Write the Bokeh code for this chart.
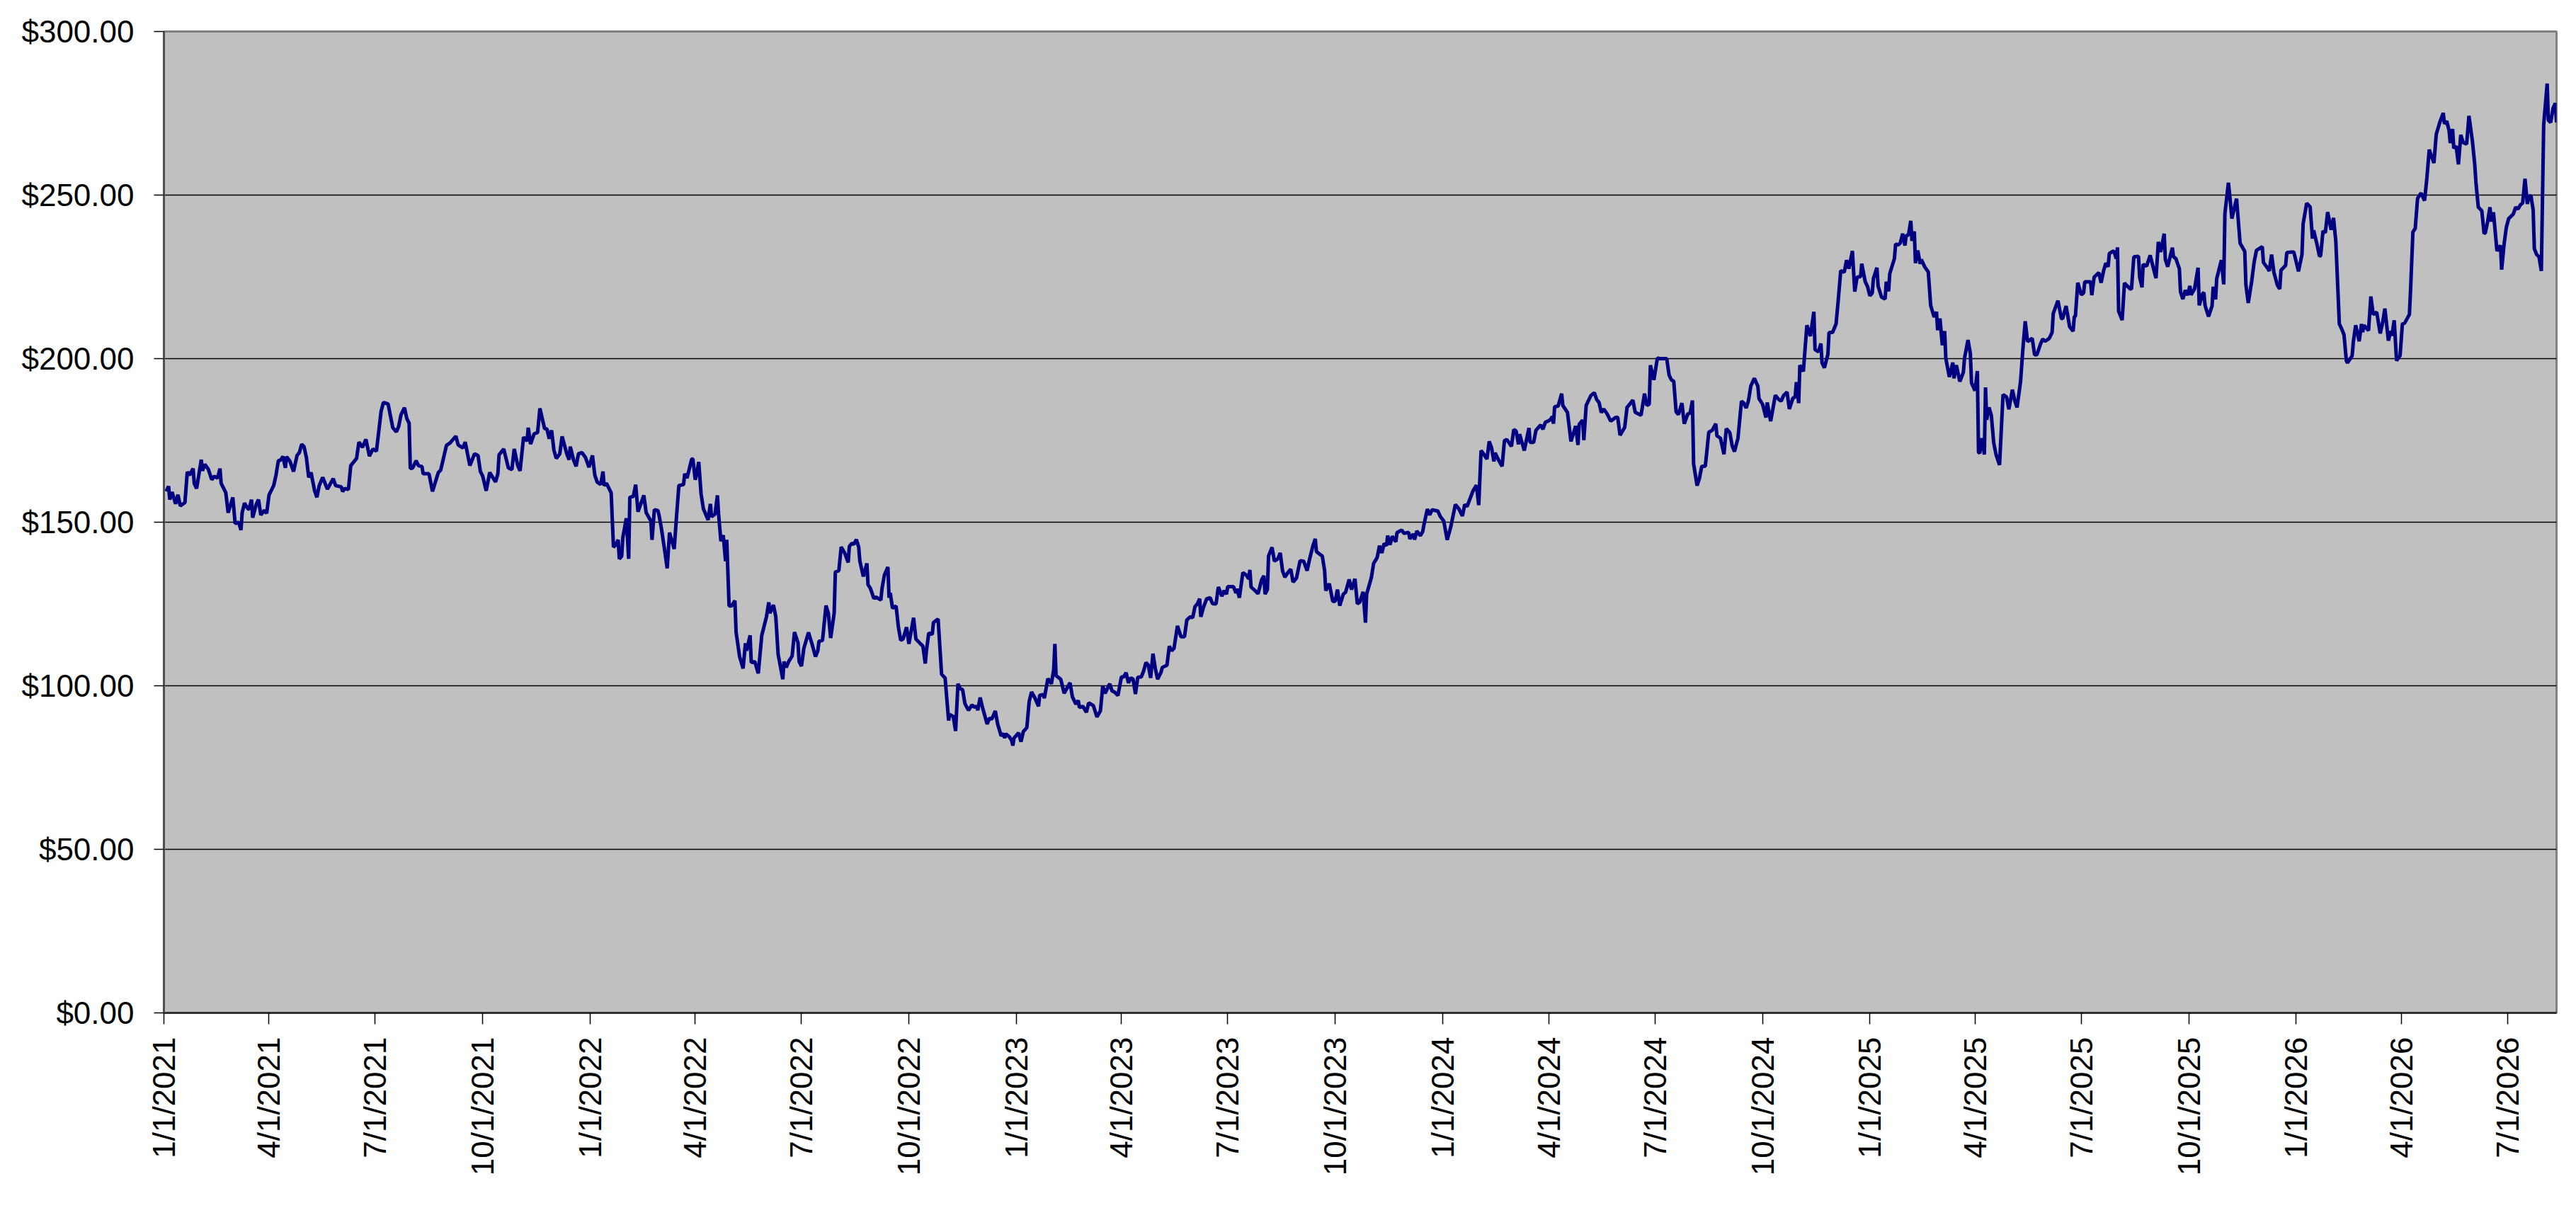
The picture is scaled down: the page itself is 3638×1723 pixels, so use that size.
from datetime import datetime, timedelta
from bokeh.plotting import figure
from bokeh.models import (FixedTicker, NumeralTickFormatter, DatetimeTickFormatter,
                          Range1d, ColumnDataSource)
from bokeh.embed import file_html
from bokeh.resources import INLINE
import math

# ---------------- data (day offset from 1/1/2021, price in $) ----------------
start_label = "1/1/2021"
end_offset = 2049

seg_2021 = [(2,159.4),(4,161.0),(5,156.9),(7,159.2),(10,155.6),(12,158.4),(14,155.0),(18,156.0),(20,165.4),(22,164.4),
            (25,166.4),(26,161.8),(28,160.3),(32,169.1),(33,165.7),(35,167.7),(38,166.2),(41,163.0),(43,164.0),(46,163.5),
            (48,166.4),(49,161.9),(53,159.0),(55,152.9),(59,157.6),(61,149.6),(64,150.0),(66,147.6),(67,152.9),(69,155.8),
            (72,154.1),(73,154.0),(75,156.9),(76,151.4),(79,155.4),(81,156.9),(83,152.2),(86,153.6),(88,152.7),(90,158.3),
            (94,161.2),(96,164.4),(98,168.8),(100,169.0),(102,170.1),(104,166.6),(105,170.0),(108,168.6),(111,165.5),(114,170.4),
            (116,171.3),(118,173.8),(120,173.1),(122,169.8),(124,163.7),(126,165.2),(129,159.7),(131,157.6),(133,161.2),(136,163.7),
            (138,161.9),(140,160.1),(145,163.3),(147,161.2),(152,160.8),(153,159.4),(155,160.3),(158,160.0),(160,167.3),(165,169.5),
            (167,174.5),(170,172.9),(173,175.3),(176,170.2),(179,172.4),(182,171.7),(186,183.9),(188,186.6),(192,186.1),(196,178.9),
            (199,177.6),(201,179.2),(203,182.8),(206,185.0),(208,181.7),(210,180.3),(211,166.4),(213,166.6),(216,168.8),(218,167.3),
            (221,167.0),(222,164.8),(227,164.8),(230,159.4),(235,165.2),(237,165.9),(242,173.5),(245,174.2),(250,176.3),(252,173.6),
            (256,172.7),(258,174.5),(262,167.3),(266,170.9),(269,170.4),(271,165.5),(273,164.1),(276,159.6),(279,165.2),(284,162.3),
            (286,164.8),(287,170.6),(291,172.4),(295,166.6),(298,166.1),(300,172.4),(303,167.3),(305,165.7),(308,176.0),(311,174.8),
            (312,178.9),(314,173.9),(317,177.0),(320,177.4),(322,184.8),(326,178.6),(328,178.5),(330,175.5),(332,178.1),(334,172.0),
            (336,169.5),(339,170.9),(341,176.2),(345,170.9),(347,169.1),(348,173.1),(351,168.8),(353,167.1),(355,170.9),(358,171.3),
            (361,169.8),(364,166.8),(367,170.4)]

seg_2022 = [(369,164.4),(371,162.3),(374,161.5),(376,165.5),(377,161.2),(379,161.9),(383,159.0),(385,142.4),(387,143.1),(389,144.6),
            (390,138.8),(392,139.6),(393,145.3),(396,151.2),(398,138.8),(399,157.6),(402,157.9),(404,161.5),(406,153.2),(411,158.2),
            (413,152.9),(417,150.4),(418,144.6),(420,153.8),(423,153.6),(424,152.2),(426,148.2),(429,141.0),(431,135.9),(433,146.8),
            (437,141.8),(439,151.8),(441,161.2),(445,161.5),(446,164.8),(448,163.5),(452,169.3),(453,169.3),(455,163.0),(456,164.2),
            (458,168.4),(460,158.7),(462,154.1),(466,150.7),(468,155.6),(469,151.7),(472,152.5),(474,158.2),(475,152.5),(477,144.2),
            (479,146.0),(481,138.1),(482,144.6),(484,124.4),(486,124.4),(489,126.0),(490,116.4),(493,108.9),(496,105.3),(498,113.0),
            (499,110.7),(502,115.4),(503,107.1),(506,107.4),(509,103.8),(512,115.4),(516,121.1),(518,125.5),(519,122.2),(522,124.7),
            (524,121.1),(526,109.6),(530,102.0),(531,107.4),(533,105.6),(535,107.4),(538,109.1),(540,116.4),(543,113.2),(544,107.4),
            (546,106.0),(548,111.4),(552,116.3),(555,112.8),(558,108.9),(560,110.7),(561,113.6),(564,113.9),(567,124.5),(569,122.2),
            (571,114.6),(574,122.2),(575,134.8),(578,135.2),(580,142.4),(583,140.6),(586,137.7),(587,142.6),(589,143.5),(591,143.3),
            (593,144.7),(595,142.4),(596,138.1),(599,133.4),(602,137.4),(603,130.9),(605,129.8),(608,126.7),(610,127.1),(614,126.2),
            (615,129.8),(617,133.8),(620,136.3),(621,126.9),(622,128.4),(624,123.7),(627,124.4),(629,117.9),(631,113.9),(633,114.3),
            (636,117.9),(638,112.8),(642,120.8),(644,114.3),(648,112.8),(650,112.1),(652,106.8),(653,110.7),(655,116.1),(658,115.7),
            (659,119.3),(663,120.4),(666,103.5),(669,102.4),(672,89.4),(673,91.2),(676,90.6),(678,86.2),(680,100.6),(682,99.1),
            (684,98.8),(686,94.5),(689,92.5),(692,94.1),(694,93.5),(696,93.7),(697,92.5),(699,96.4),(701,93.4),(705,88.3),
            (707,90.1),(709,89.8),(712,92.3),(714,88.3),(717,84.7),(719,85.4),(720,84.0),(721,85.3),(724,84.4),(726,83.3),
            (727,81.7),(728,84.0)]

seg_2023 = [(732,85.6),(734,82.9),(736,86.0),(739,87.2),(741,95.2),(743,98.1),(746,96.2),(749,93.7),(750,97.1),(753,97.3),
            (754,96.2),(757,102.2),(760,100.6),(762,104.9),(763,112.8),(764,103.1),(768,102.0),(771,97.7),(772,98.4),(776,100.9),
            (778,96.6),(781,94.4),(783,95.5),(784,93.4),(787,93.7),(790,91.9),(792,94.8),(796,93.9),(799,90.5),(802,92.3),
            (804,99.9),(806,97.7),(810,100.6),(812,98.4),(814,98.1),(817,97.0),(820,102.7),(822,102.7),(824,104.0),(826,100.9),
            (828,102.4),(830,102.0),(832,97.5),(834,102.6),(837,102.7),(839,104.5),(841,107.1),(843,106.3),(845,102.4),(847,109.8),
            (849,105.3),(851,102.0),(854,104.2),(855,105.6),(859,106.3),(861,112.1),(863,110.7),(865,111.4),(868,118.3),(871,115.0),
            (874,115.0),(876,120.1),(879,121.1),(881,120.8),(883,124.2),(885,125.0),(887,126.6),(888,121.1),(890,123.7),(893,126.6),
            (896,126.9),(898,125.1),(901,125.0),(903,130.2),(906,127.4),(908,129.1),(910,128.0),(911,130.3),(916,130.3),(918,128.4),
            (919,129.6),(921,126.9),(924,134.6),(927,133.8),(929,132.7),(930,135.4),(931,130.2),(935,128.9),(937,128.1),(940,132.3),
            (942,133.6),(943,128.0),(945,129.4),(946,139.7),(949,142.3),(951,138.1),(954,138.8),(956,140.6),(958,135.1),(960,133.2),
            (963,134.8),(965,135.6),(967,131.7),(970,133.0),(971,134.8),(973,138.2),(976,138.1),(979,135.2),(981,138.5),(984,142.8),
            (986,144.9),(987,141.0),(991,139.9),(992,139.7),(994,135.2),(995,129.1),(998,131.2),(1001,125.8),(1003,125.8),(1005,129.4),
            (1007,124.5),(1010,128.0),(1012,128.6),(1015,132.5),(1017,129.4),(1020,132.7),(1022,125.1),(1024,125.5),(1027,128.7),(1029,119.3),
            (1030,128.0),(1034,133.0),(1036,137.4),(1039,139.2),(1041,142.8),(1043,140.6),(1045,143.5),(1047,142.8),(1048,145.9),(1050,143.1),
            (1052,145.7),(1055,144.0),(1056,146.8),(1060,147.6),(1062,146.6),(1066,146.9),(1067,144.9),(1070,146.4),(1071,144.7),(1073,147.3),
            (1076,145.9),(1078,147.1),(1079,149.1),(1082,154.0),(1084,152.2),(1086,153.8),(1091,153.4),(1093,151.8)]

seg_2024 = [(1096,150.4),(1099,144.6),(1102,148.5),(1106,155.4),(1109,154.1),(1112,151.9),(1114,155.4),(1116,154.8),(1121,159.5),(1124,161.3),
            (1126,155.2),(1128,171.9),(1131,170.4),(1133,169.3),(1135,174.7),(1137,172.7),(1139,168.6),(1140,171.2),(1143,169.0),(1146,167.1),
            (1148,174.9),(1150,175.3),(1154,173.2),(1156,178.3),(1158,177.9),(1160,173.8),(1161,176.9),(1165,171.9),(1169,178.8),(1170,174.4),
            (1173,174.4),(1175,178.1),(1179,179.7),(1181,178.4),(1183,180.5),(1187,181.2),(1189,182.3),(1190,180.1),(1191,185.3),(1194,185.5),
            (1197,189.3),(1198,185.7),(1202,183.5),(1205,174.7),(1209,179.4),(1211,173.6),(1212,179.9),(1215,181.2),(1216,175.1),(1218,185.7),
            (1222,188.7),(1225,189.6),(1227,187.5),(1229,186.6),(1231,183.5),(1233,184.6),(1236,183.1),(1239,180.9),(1243,182.0),(1245,182.1),
            (1247,176.6),(1251,179.0),(1253,185.1),(1256,186.4),(1258,187.3),(1260,183.6),(1265,182.7),(1268,189.3),(1270,185.7),(1272,186.1),
            (1273,198.0),(1276,193.5),(1279,200.2),(1281,200.0),(1284,200.0),(1287,200.0),(1289,195.0),(1291,193.5),(1293,193.1),(1295,183.8),
            (1297,182.9),(1300,186.4),(1302,180.1),(1305,183.1),(1307,183.3),(1309,187.2),(1310,167.8),(1313,161.2),(1315,163.4),(1317,167.1),
            (1320,167.1),(1321,170.4),(1323,177.5),(1326,178.1),(1329,180.1),(1330,176.4),(1333,175.7),(1336,170.8),(1338,178.6),(1341,177.4),
            (1343,173.4),(1345,171.6),(1348,175.7),(1351,187.0),(1353,186.4),(1355,184.9),(1357,187.2),(1359,191.6),(1362,194.0),(1365,191.6),
            (1366,187.8),(1369,186.1),(1372,182.0),(1373,186.6),(1376,180.9),(1380,188.8),(1383,187.5),(1385,187.0),(1387,188.7),(1390,189.8),
            (1392,184.6),(1395,187.9),(1397,188.3),(1398,192.8),(1400,186.4),(1401,198.0),(1404,196.1),(1407,210.2),(1410,206.9),(1413,214.3),
            (1414,202.8),(1417,202.1),(1419,204.6),(1420,198.7),(1422,197.2),(1425,201.3),(1426,208.0),(1429,208.0),(1432,210.6),(1434,218.4),
            (1436,226.9),(1439,226.4),(1441,230.1),(1443,227.5),(1446,232.9),(1448,220.5),(1450,224.9),(1453,225.1),(1454,229.0)]

seg_2025 = [(1457,223.5),(1459,222.0),(1461,219.2),(1463,220.1),(1464,224.5),(1467,227.8),(1468,222.2),(1471,218.8),(1474,218.2),(1475,223.5),
            (1477,220.6),(1478,226.0),(1482,230.6),(1483,235.1),(1485,234.7),(1487,235.3),(1489,238.2),(1491,234.6),(1492,237.6),(1494,237.8),
            (1496,242.1),(1497,236.0),(1499,238.9),(1500,229.2),(1502,233.1),(1504,229.0),(1505,230.3),(1508,228.0),(1511,226.5),(1513,216.3),
            (1516,212.7),(1518,214.3),(1519,208.7),(1521,212.3),(1523,204.1),(1525,208.4),(1526,200.1),(1529,194.4),(1532,198.8),(1533,194.0),
            (1535,198.0),(1538,193.0),(1541,195.8),(1542,200.1),(1545,205.7),(1547,201.6),(1548,192.6),(1551,190.2),(1553,196.2),(1554,171.4),
            (1555,171.1),(1557,175.7),(1559,170.7),(1560,191.2),(1561,181.3),(1563,185.1),(1565,182.6),(1567,174.3),(1569,170.7),(1572,167.5),
            (1575,189.0),(1578,188.3),(1580,184.5),(1583,190.5),(1585,187.2),(1587,185.1),(1590,193.0),(1592,203.0),(1594,211.4),(1596,205.2),
            (1600,206.2),(1602,201.2),(1604,201.2),(1607,204.4),(1609,206.0),(1611,205.3),(1614,206.0),(1615,206.5),(1617,208.0),(1618,213.8),
            (1622,217.7),(1625,212.3),(1626,212.2),(1629,216.1),(1632,209.8),(1635,208.4),(1636,212.7),(1637,213.1),(1639,223.2),(1642,219.5),
            (1644,220.1),(1645,223.5),(1650,223.5),(1651,219.4),(1653,224.9),(1657,226.3),(1659,223.2),(1661,226.7),(1663,229.2),(1665,228.1),
            (1666,232.1),(1669,232.8),(1670,232.8),(1672,230.6),(1673,234.0),(1674,214.5),(1677,211.8),(1679,223.1),(1680,222.7),(1684,221.3),
            (1685,221.3),(1687,231.1),(1691,231.3),(1692,224.9),(1694,221.8),(1695,228.8),(1698,228.3),(1701,231.6),(1704,227.3),(1706,224.6),
            (1708,235.7),(1710,232.6),(1713,238.2),(1714,230.3),(1716,228.1),(1720,233.9),(1721,231.1),(1723,230.6),(1726,227.5),(1727,220.4),
            (1729,218.2),(1731,220.9),(1733,219.4),(1735,222.2),(1736,219.5),(1739,221.3),(1742,227.8),(1743,216.3),(1746,219.9),(1747,220.2),
            (1748,216.3),(1751,212.9),(1754,216.1),(1755,222.0),(1757,218.1),(1758,224.5),(1762,230.1),(1764,222.7),(1765,244.3),(1768,253.8),
            (1769,250.4),(1771,242.8),(1774,247.5),(1775,248.9),(1778,235.3),(1782,232.8),(1783,222.5),(1785,217.0),(1788,223.8),(1790,229.4),
            (1792,233.1),(1797,234.2),(1798,229.4),(1802,227.4),(1803,226.8),(1805,231.8),(1807,226.3),(1810,222.4),(1812,221.3),(1813,227.0),
            (1817,228.5),(1818,232.4)]

seg_2026 = [(1822,232.6),(1824,232.6),(1826,229.7),(1828,226.7),(1831,231.8),(1832,241.2),(1835,247.5),(1838,246.4),(1840,236.7),(1841,239.2),
            (1844,234.7),(1846,231.3),(1847,231.5),(1849,239.0),(1851,238.5),(1853,244.8),(1856,239.4),(1858,243.0),(1860,235.8),(1863,210.6),
            (1865,209.1),(1867,207.3),(1869,199.4),(1870,198.7),(1874,200.9),(1875,205.2),(1877,210.2),(1880,205.3),(1882,210.6),(1883,208.1),
            (1884,210.2),(1888,208.6),(1890,219.0),(1892,213.5),(1895,214.2),(1898,207.7),(1900,210.9),(1902,215.3),(1905,205.5),(1907,208.4),
            (1908,207.0),(1910,211.7),(1912,199.4),(1915,200.9),(1917,210.6),(1919,210.9),(1923,213.5),(1924,221.0),(1926,238.7),(1928,239.8),
            (1930,249.0),(1933,250.6),(1936,248.3),(1938,255.3),(1940,263.9),(1941,262.8),(1944,259.8),(1946,268.6),(1949,272.2),(1952,275.1),
            (1953,271.8),(1955,272.6),(1957,269.7),(1958,265.9),(1960,270.2),(1961,264.3),(1963,265.0),(1965,259.4),(1967,268.4),(1969,266.1),
            (1972,265.6),(1974,274.2),(1977,266.4),(1979,259.2),(1980,253.8),(1982,246.3),(1985,245.2),(1987,238.2),(1988,238.5),(1990,241.9),
            (1992,246.3),(1993,241.9),(1995,244.7),(1998,232.9),(2001,234.6),(2002,227.2),(2004,234.7),(2006,240.1),(2008,242.8),(2012,244.2),
            (2014,246.3),(2016,245.7),(2018,247.0),(2020,247.6),(2022,255.0),(2024,247.3),(2025,249.1),(2027,250.0),(2029,245.4),(2030,233.6),
            (2032,231.8),(2034,231.1),(2036,226.8),(2037,249.5),(2038,271.5),(2041,284.1),(2042,272.9),(2044,272.2),(2046,276.5),(2048,278.1),
            (2049,272.2)]

tick_labels = ["1/1/2021", "4/1/2021", "7/1/2021", "10/1/2021",
               "1/1/2022", "4/1/2022", "7/1/2022", "10/1/2022",
               "1/1/2023", "4/1/2023", "7/1/2023", "10/1/2023",
               "1/1/2024", "4/1/2024", "7/1/2024", "10/1/2024",
               "1/1/2025", "4/1/2025", "7/1/2025", "10/1/2025",
               "1/1/2026", "4/1/2026", "7/1/2026"]
y_ticks = [0, 50, 100, 150, 200, 250, 300]

# ---------------- build ----------------
start = datetime.strptime(start_label, "%m/%d/%Y")
points = seg_2021 + seg_2022 + seg_2023 + seg_2024 + seg_2025 + seg_2026
dates = [start + timedelta(days=d) for d, _ in points]
prices = [v for _, v in points]
src = ColumnDataSource(dict(date=dates, price=prices))

def to_ms(dt):
    return (dt - datetime(1970, 1, 1)).total_seconds() * 1000.0

tick_ms = [to_ms(datetime.strptime(t, "%m/%d/%Y")) for t in tick_labels]

FONT = "Liberation Sans"

p = figure(width=3622, height=1707, x_axis_type="datetime",
           output_backend="svg", toolbar_location=None,
           x_range=Range1d(start, start + timedelta(days=end_offset)),
           y_range=Range1d(0, 300),
           min_border_left=231, min_border_right=12,
           min_border_top=44, min_border_bottom=277)

p.background_fill_color = "#C0C0C0"
p.border_fill_color = "white"
p.outline_line_color = "#808080"
p.outline_line_width = 3

p.line("date", "price", source=src, line_color="#000080", line_width=5)

# grids
p.xgrid.visible = False
p.ygrid.ticker = FixedTicker(ticks=y_ticks)
p.ygrid.grid_line_color = "black"
p.ygrid.grid_line_width = 1.5

# x axis
xa = p.xaxis[0]
xa.ticker = FixedTicker(ticks=tick_ms)
fmt = "%-m/%-d/%Y"
xa.formatter = DatetimeTickFormatter(days=fmt, months=fmt, years=fmt, hours=fmt,
                                     minutes=fmt, seconds=fmt, milliseconds=fmt,
                                     microseconds=fmt, hourmin=fmt, minsec=fmt)
xa.major_label_orientation = math.pi / 2
xa.major_label_text_font = FONT
xa.major_label_text_font_size = "44px"
xa.major_label_text_color = "black"
xa.major_label_standoff = 18
xa.major_tick_out = 16
xa.major_tick_in = 0
xa.minor_tick_out = 0
xa.minor_tick_in = 0
xa.major_tick_line_color = "black"
xa.major_tick_line_width = 1.5
xa.axis_line_color = "#303030"
xa.axis_line_width = 3

# y axis
ya = p.yaxis[0]
ya.ticker = FixedTicker(ticks=y_ticks)
ya.formatter = NumeralTickFormatter(format="$0.00")
ya.major_label_text_font = FONT
ya.major_label_text_font_size = "44px"
ya.major_label_text_color = "black"
ya.major_label_standoff = 28
ya.major_tick_out = 14
ya.major_tick_in = 0
ya.minor_tick_out = 0
ya.minor_tick_in = 0
ya.major_tick_line_color = "black"
ya.major_tick_line_width = 1.5
ya.axis_line_color = "#505050"
ya.axis_line_width = 3

open("out.html", "w").write(file_html(p, INLINE))
